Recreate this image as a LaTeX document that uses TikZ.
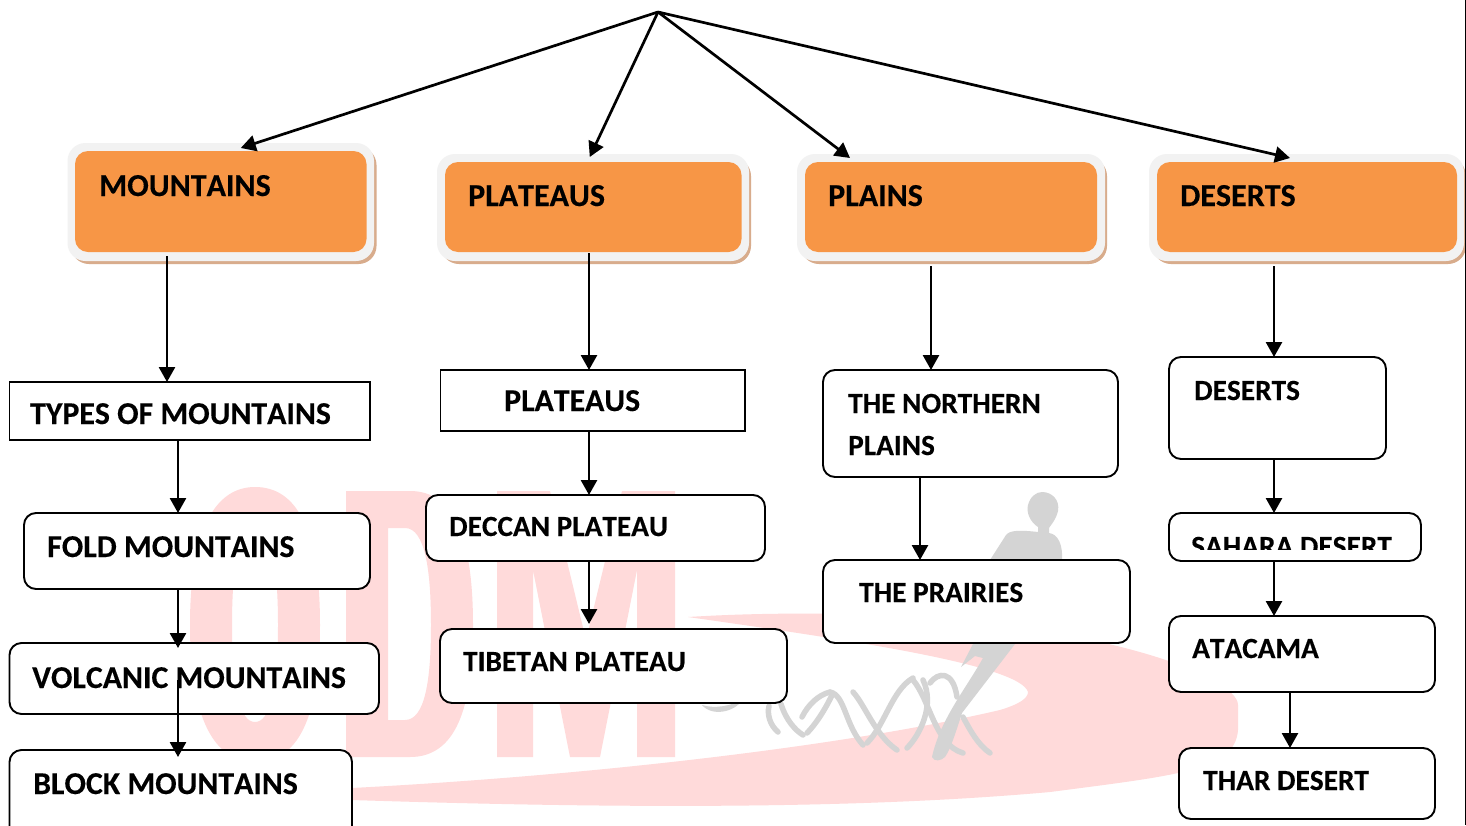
\documentclass[tikz,border=0pt]{standalone}
\usepackage{fontspec}
\setmainfont{Carlito}[Kerning=Off,BoldFeatures={FakeBold=0.25}]
\usetikzlibrary{arrows.meta}
\definecolor{wm}{HTML}{FFDADA}
\definecolor{wg}{HTML}{D4D4D4}
\definecolor{orng}{HTML}{F79646}
\definecolor{frm}{HTML}{F2F2F2}
\definecolor{shd}{HTML}{D8AC8C}
\tikzset{
  x=1pt,y=-1pt,
  bx/.style={draw=black,line width=1.9pt,fill=white,inner sep=0pt,outer sep=0pt},
  rnd/.style={bx,rounded corners=12pt},
  sq/.style={bx},
  hd/.style={fill=orng,rounded corners=13pt,inner sep=0pt,outer sep=0pt},
  hf/.style={fill=frm,rounded corners=18pt,inner sep=0pt,outer sep=0pt},
  hs/.style={fill=shd,rounded corners=18pt,inner sep=0pt,outer sep=0pt},
  big/.style={anchor=base west,inner sep=0pt,font=\fontsize{32}{32}\selectfont\bfseries},
  mid/.style={anchor=base west,inner sep=0pt,font=\fontsize{31.8}{31.8}\selectfont\bfseries},
  sml/.style={anchor=base west,inner sep=0pt,font=\fontsize{29.3}{29.3}\selectfont\bfseries},
  arr/.style={draw=black,line width=2.7pt,-{Triangle[length=15pt,width=16pt]}},
  dna/.style={draw=wg,line width=5.5pt,line cap=round},
}
\newcommand{\bxn}[6]{\node[#1,minimum width={(#5-#3)*1pt},minimum height={(#6-#4)*1pt}] (#2) at ({(#3+#5)/2},{(#4+#6)/2}) {};}
\newcommand{\conn}[5][0]{\coordinate (cx#2#3) at (#4,0);
  \draw[arr,shorten <=#1pt,shorten >=#5pt] (#2.south -| cx#2#3) -- (#3.north -| cx#2#3);}
\begin{document}
\begin{tikzpicture}
\clip (0,0) rectangle (1466,825);
\fill[white] (0,0) rectangle (1466,825);
% watermark letters
\fill[wm,even odd rule] (190,625) .. controls (190,530) and (215,487) .. (255,487) .. controls (297,487) and (320,530) .. (320,625) .. controls (320,720) and (297,762) .. (255,762) .. controls (215,762) and (190,720) .. (190,625) -- cycle
 (232,625) .. controls (232,690) and (240,722) .. (255,722) .. controls (270,722) and (278,690) .. (278,625) .. controls (278,560) and (270,527) .. (255,527) .. controls (240,527) and (232,560) .. (232,625) -- cycle;
\fill[wm,even odd rule] (346,491) -- (410,491) .. controls (455,491) and (473,540) .. (473,625) .. controls (473,710) and (455,757) .. (410,757) -- (346,757) -- cycle
 (388,528) -- (388,720) -- (405,720) .. controls (425,720) and (431,680) .. (431,625) .. controls (431,570) and (425,528) .. (405,528) -- cycle;
\fill[wm] (497,491) -- (550,491) -- (586,640) -- (622,491) -- (675,491) -- (675,757) -- (637,757) -- (637,570) -- (600,757) -- (570,757) -- (533,570) -- (533,757) -- (497,757) -- cycle;
% swoosh
\fill[wm] (688,617) .. controls (800,610) and (1000,610) .. (1150,655) .. controls (1200,670) and (1238,690) .. (1238,705) -- (1238,730) .. controls (1235,770) and (1180,775) .. (1050,792) .. controls (850,810) and (600,808) .. (352,800) -- (352,788) .. controls (600,775) and (850,745) .. (1000,710) .. controls (1020,704) and (1028,698) .. (1028,692) .. controls (1020,665) and (850,640) .. (688,617) -- cycle;
% figure
\fill[wg] (1042,492) .. controls (1052,492) and (1060,500) .. (1058,511) .. controls (1056,520) and (1050,526) .. (1049,528) -- (1049,533) .. controls (1058,534) and (1063,545) .. (1062,560) -- (990,560) -- (1006,535) .. controls (1010,530) and (1020,530) .. (1038,532) -- (1038,527) .. controls (1030,522) and (1026,512) .. (1028,505) .. controls (1030,497) and (1036,492) .. (1042,492) -- cycle;
\fill[wg] (973,644) -- (1015,644) -- (962,713) .. controls (955,735) and (950,750) .. (945,757) .. controls (941,761) and (934,762) .. (932,757) .. controls (940,720) and (965,690) .. (983,658) -- (975,656) -- (961,667) -- cycle;
% dna
\fill[wg] (702,705) .. controls (715,709) and (730,706) .. (742,700) .. controls (735,712) and (712,717) .. (702,705) -- cycle;
\draw[dna] (769,706) .. controls (767,715) and (770,725) .. (778,732);
\draw[dna] (781,704) .. controls (786,720) and (795,730) .. (803,735);
\draw[dna] (807,733) .. controls (815,725) and (825,710) .. (832,695);
\draw[dna] (802,717) .. controls (808,705) and (818,695) .. (830,692) .. controls (845,695) and (845,725) .. (863,745);
\draw[dna] (853,692) .. controls (865,705) and (875,735) .. (897,750);
\draw[dna] (867,743) .. controls (885,725) and (892,690) .. (913,678);
\draw[dna] (907,748) .. controls (920,735) and (935,705) .. (923,680);
\draw[dna] (913,680) .. controls (930,700) and (935,745) .. (963,753);
\draw[dna] (930,683) .. controls (938,672) and (953,670) .. (957,697);
\draw[dna] (963,717) .. controls (970,730) and (978,745) .. (990,753);
% header frames
\bxn{hs}{s1}{71}{147}{376.5}{264}
\bxn{hf}{f1}{67.5}{143}{374}{261}
\bxn{hd}{h1}{75}{151}{366.5}{252}
\bxn{hs}{s2}{441}{158}{751}{264}
\bxn{hf}{f2}{437}{154}{749}{261}
\bxn{hd}{h2}{445}{162}{741.5}{252}
\bxn{hs}{s3}{801}{158}{1107}{264}
\bxn{hf}{f3}{797}{154}{1105}{261}
\bxn{hd}{h3}{805}{162}{1097}{252}
\bxn{hs}{s4}{1153}{158}{1466}{264}
\bxn{hf}{f4}{1149}{154}{1464}{261}
\bxn{hd}{h4}{1157}{162}{1457}{252}
\node[big] (th1) at (99,196) {MOUNTAINS};
\node[big] (th2) at (468,206) {PLATEAUS};
\node[big] (th3) at (828,206) {PLAINS};
\node[big] (th4) at (1180,206) {DESERTS};
% boxes
\bxn{sq}{a1}{9.5}{382}{370}{440}
\bxn{rnd}{a2}{24}{513}{370}{589}
\bxn{rnd}{a3}{9.5}{643}{379}{714}
\bxn{rnd}{a4}{9.5}{750}{352}{845}
\bxn{sq}{b1}{440.5}{370}{745}{431}
\bxn{rnd}{b2}{426}{495}{765}{561}
\bxn{rnd}{b3}{440}{629}{787}{703}
\bxn{rnd}{c1}{823}{370}{1118}{477}
\bxn{rnd}{c2}{823}{560}{1130}{643}
\bxn{rnd}{d1}{1169}{357}{1386}{459}
\bxn{rnd}{d2}{1169}{513}{1421}{561}
\bxn{rnd}{d3}{1169}{616}{1435}{692}
\bxn{rnd}{d4}{1179}{748}{1435}{819}
% texts
\node[mid] (ta1) at (30,424) {TYPES OF MOUNTAINS};
\node[mid] (ta2) at (47,557) {FOLD MOUNTAINS};
\node[mid] (ta3) at (32,688) {VOLCANIC MOUNTAINS};
\node[mid] (ta4) at (33,794) {BLOCK MOUNTAINS};
\node[mid] (tb1) at (504,411) {PLATEAUS};
\node[sml] (tb2) at (449,536) {DECCAN PLATEAU};
\node[sml] (tb3) at (463,671) {TIBETAN PLATEAU};
\node[sml] (tc1) at (848,413) {THE NORTHERN};
\node[sml] (tc1b) at (848,455) {PLAINS};
\node[sml] (tc2) at (859,602) {THE PRAIRIES};
\node[sml] (td1) at (1194,400) {DESERTS};
\begin{scope}
\clip (1170,520) rectangle (1420,549);
\node[sml] (td2) at (1191,556) {SAHARA DESERT};
\end{scope}
\node[sml] (td3) at (1192,658) {ATACAMA};
\node[sml] (td4) at (1203,790) {THAR DESERT};
% top connectors
\coordinate (apex) at (658,12);
\draw[arr] (apex) -- ([xshift=20pt,yshift=3pt]h1.north);
\draw[arr] (apex) -- ([xshift=-3.5pt,yshift=5pt]h2.north);
\draw[arr] (apex) -- ([xshift=-101pt,yshift=4pt]h3.north);
\draw[arr] (apex) -- ([xshift=-17pt,yshift=4pt]h4.north);
% vertical connectors
\conn[4]{h1}{a1}{167}{0}
\conn{a1}{a2}{178}{0}
\conn{a2}{a3}{178}{-5}
\conn[-34]{a3}{a4}{178}{-7}
\conn[1]{h2}{b1}{589}{0}
\conn{b1}{b2}{589}{0}
\conn{b2}{b3}{589}{5}
\conn[14]{h3}{c1}{931}{0}
\conn{c1}{c2}{920}{0}
\conn[14]{h4}{d1}{1274}{0}
\conn{d1}{d2}{1274}{0}
\conn{d2}{d3}{1274}{0}
\conn{d3}{d4}{1290}{0}
% page edge
\draw[black,line width=1pt] (1465.5,0) -- (1465.5,825);
\end{tikzpicture}
\end{document}
